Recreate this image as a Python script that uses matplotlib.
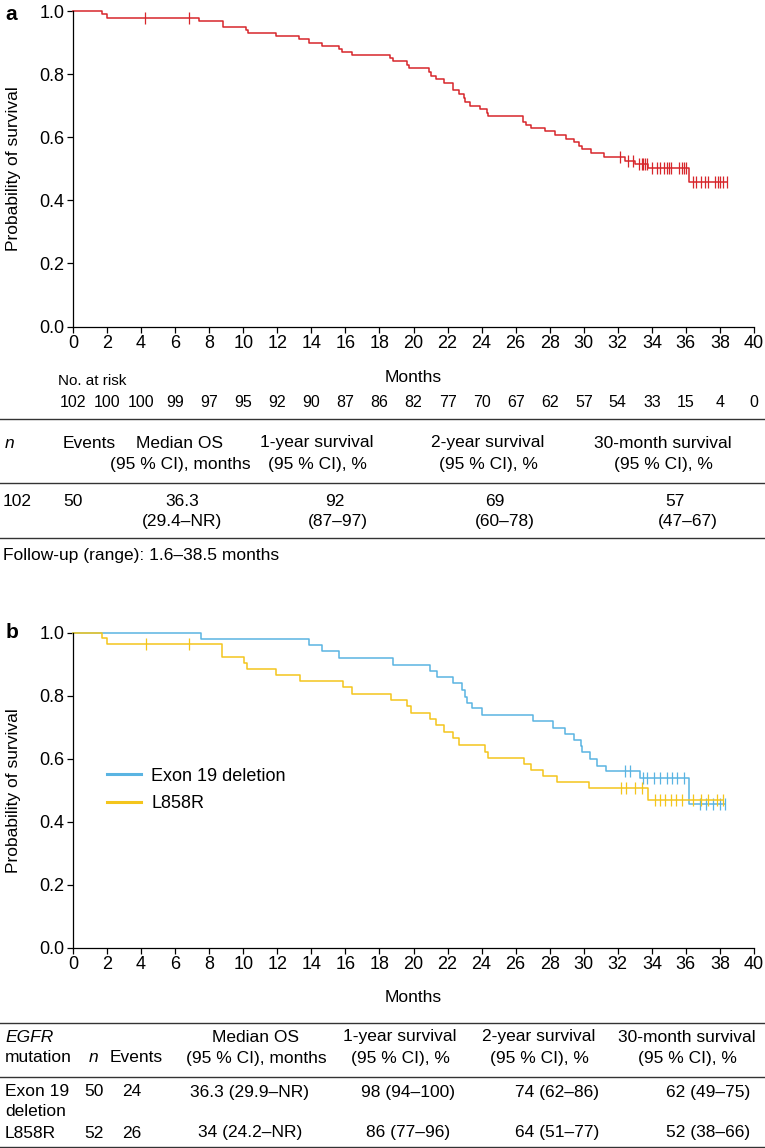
import numpy as np
import matplotlib
matplotlib.use("Agg")
import matplotlib.pyplot as plt
from matplotlib.lines import Line2D
import matplotlib.transforms as mtransforms

plt.rcParams['font.family'] = ['Liberation Sans', 'DejaVu Sans']

# ---- data, panel a (all patients)
a_times = [0, 1.7, 2.0, 7.4, 8.8, 10.15, 10.3, 11.95, 13.3, 13.85, 14.6, 15.65, 15.8,
           16.4, 18.6, 18.8, 19.6, 19.75, 20.9, 21.05, 21.35, 21.8, 22.3, 22.7, 22.95,
           23.05, 23.3, 23.9, 24.3, 24.4, 26.45, 26.6, 26.9, 27.7, 28.3, 28.95, 29.4,
           29.7, 29.9, 30.4, 31.2, 32.4, 33.0, 33.8, 36.2]
a_surv = [1.0, 0.990, 0.980, 0.970, 0.950, 0.940, 0.931, 0.921, 0.911, 0.901, 0.891,
          0.881, 0.871, 0.861, 0.851, 0.841, 0.831, 0.820, 0.808, 0.796, 0.784, 0.772,
          0.750, 0.737, 0.724, 0.712, 0.700, 0.690, 0.678, 0.667, 0.650, 0.640, 0.630,
          0.619, 0.608, 0.596, 0.584, 0.573, 0.563, 0.550, 0.538, 0.526, 0.514, 0.502,
          0.457]
a_censor = [4.2, 6.8, 32.1, 32.6, 32.9, 33.25, 33.4, 33.5, 33.6, 33.7, 34.0, 34.3, 34.5,
            34.7, 34.9, 35.0, 35.1, 35.6, 35.8, 35.9, 36.0, 36.4, 36.6, 36.9, 37.1, 37.3,
            37.7, 37.9, 38.0, 38.2, 38.4]
risk_months = list(range(0, 41, 2))
risk_counts = [102, 100, 100, 99, 97, 95, 92, 90, 87, 86, 82, 77, 70, 67, 62, 57, 54,
               33, 15, 4, 0]

# ---- data, panel b (by EGFR mutation)
exon_times = [0, 7.5, 13.85, 14.6, 15.6, 18.8, 20.94, 21.4, 22.3, 22.83, 23.0, 23.15,
              23.44, 24.0, 27.0, 28.2, 28.9, 29.4, 29.83, 29.9, 30.35, 30.8, 31.3, 33.3,
              36.2]
exon_surv = [1.0, 0.980, 0.960, 0.940, 0.920, 0.898, 0.878, 0.859, 0.840, 0.819, 0.797,
             0.776, 0.760, 0.740, 0.718, 0.698, 0.679, 0.658, 0.640, 0.620, 0.600, 0.578,
             0.560, 0.540, 0.455]
exon_censor = [32.4, 32.7, 33.5, 33.7, 34.1, 34.5, 34.9, 35.2, 35.5, 35.9, 36.8, 37.2,
               37.6, 38.0, 38.3]
l858_times = [0, 1.72, 2.0, 8.78, 10.05, 10.2, 11.9, 13.35, 15.85, 16.4, 18.65, 19.6,
              19.86, 20.94, 21.3, 21.8, 22.3, 22.7, 24.2, 24.4, 26.5, 26.9, 27.6, 28.4,
              30.3, 33.8]
l858_surv = [1.0, 0.981, 0.962, 0.922, 0.903, 0.884, 0.865, 0.845, 0.826, 0.805, 0.785,
             0.766, 0.746, 0.727, 0.706, 0.685, 0.665, 0.643, 0.622, 0.603, 0.584, 0.563,
             0.545, 0.526, 0.506, 0.470]
l858_censor = [4.26, 6.8, 32.2, 32.5, 33.0, 33.4, 34.2, 34.5, 34.8, 35.1, 35.4, 35.8,
               36.4, 36.9, 37.3, 37.8, 38.2]
group_labels = ['Exon 19 deletion', 'L858R']

# ---- table data
a_head1 = ['Events', 'Median OS', '1-year survival', '2-year survival', '30-month survival']
a_head2 = ['', '(95 % CI), months', '(95 % CI), %', '(95 % CI), %', '(95 % CI), %']
a_n, a_events = '102', '50'
a_est = ['36.3', '92', '69', '57']
a_ci = ['(29.4–NR)', '(87–97)', '(60–78)', '(47–67)']
followup = 'Follow-up (range): 1.6–38.5 months'

b_head1 = ['Events', 'Median OS', '1-year survival', '2-year survival', '30-month survival']
b_head2 = ['Events', '(95 % CI), months', '(95 % CI), %', '(95 % CI), %', '(95 % CI), %']
b_rows = [
    ['50', '24', '36.3 (29.9–NR)', '98 (94–100)', '74 (62–86)', '62 (49–75)'],
    ['52', '26', '34 (24.2–NR)', '86 (77–96)', '64 (51–77)', '52 (38–66)'],
]

RED = '#d7262b'
BLUE = '#5ab4e2'
YELLOW = '#f4c51c'
FS = 12.5

W, H = 765, 1148
fig = plt.figure(figsize=(W / 100, H / 100), dpi=100)


def fx(x):
    return x / W


def fy(y):
    return 1 - y / H


def km(ax, times, surv, censor, color, label=None):
    end = max(censor)
    ax.step(times + [end], surv + [surv[-1]], where='post', color=color, lw=1.1,
            clip_on=False, label=label)
    idx = np.searchsorted(times, censor, side='right') - 1
    ax.plot(censor, np.array(surv)[idx], ls='none', marker='|', ms=8, mew=0.9,
            color=color, clip_on=False)


def style(ax):
    ax.set_xlim(0, 40)
    ax.set_ylim(0, 1.0)
    ax.spines['top'].set_visible(False)
    ax.spines['right'].set_visible(False)
    for s in ['left', 'bottom']:
        ax.spines[s].set_linewidth(0.9)
    ax.set_xticks(range(0, 41, 2))
    ax.set_yticks(np.arange(0, 1.01, 0.2))
    ax.set_yticklabels([f'{v:.1f}' for v in np.arange(0, 1.01, 0.2)])
    ax.tick_params(direction='out', length=4, width=0.9, labelsize=FS + 0.5, pad=2)
    ax.set_ylabel('Probability of survival', fontsize=FS)
    ax.yaxis.set_label_coords(-0.076, 0.5)


ax_left, ax_w = fx(73), fx(754) - fx(73)

# ---- panel a
ax1 = fig.add_axes([ax_left, fy(326.5), ax_w, (326.5 - 11.3) / H])
km(ax1, a_times, a_surv, a_censor, RED)
style(ax1)
fig.text(fx(11), fy(15), 'a', fontsize=15, fontweight='bold', ha='center', va='center')
ax1.text(0.5, -(377 - 326.5) / 315.2, 'Months', transform=ax1.transAxes,
         ha='center', va='center', fontsize=FS)
trans = mtransforms.blended_transform_factory(ax1.transData, ax1.transAxes)
ax1.text(-0.9, -(381 - 326.5) / 315.2, 'No. at risk', transform=trans, ha='left',
         va='center', fontsize=FS - 1.5)
for m, c in zip(risk_months, risk_counts):
    ax1.text(m, -(402 - 326.5) / 315.2, str(c), transform=trans, ha='center',
             va='center', fontsize=FS - 1)

# table a
for y in [419, 483, 538]:
    fig.add_artist(Line2D([0, 1], [fy(y), fy(y)], color='#333333', lw=1.0))
fig.text(fx(5), fy(443), 'n', style='italic', fontsize=FS, va='center', ha='left')
fig.text(fx(63), fy(443), a_head1[0], fontsize=FS, va='center', ha='left')
for x, h1, h2 in zip([180, 317, 488, 663], a_head1[1:], a_head2[1:]):
    fig.text(fx(x), fy(443), h1, fontsize=FS, va='center', ha='center')
    fig.text(fx(x), fy(465), h2, fontsize=FS, va='center', ha='center')
fig.text(fx(3), fy(501), a_n, fontsize=FS, va='center', ha='left')
fig.text(fx(63), fy(501), a_events, fontsize=FS, va='center', ha='left')
for x1, x2, e, c in zip([182, 335, 495, 675], [182, 338, 505, 688], a_est, a_ci):
    fig.text(fx(x1), fy(501), e, fontsize=FS, va='center', ha='center')
    fig.text(fx(x2), fy(522), c, fontsize=FS, va='center', ha='center')
fig.text(fx(3), fy(555), followup, fontsize=FS, va='center', ha='left')

# ---- panel b
ax2 = fig.add_axes([ax_left, fy(948), ax_w, (948 - 632.5) / H])
km(ax2, exon_times, exon_surv, exon_censor, BLUE, group_labels[0])
km(ax2, l858_times, l858_surv, l858_censor, YELLOW, group_labels[1])
style(ax2)
fig.text(fx(12), fy(633), 'b', fontsize=15, fontweight='bold', ha='center', va='center')
ax2.text(0.5, -(998 - 948) / 315.5, 'Months', transform=ax2.transAxes,
         ha='center', va='center', fontsize=FS)
handles = [Line2D([], [], color=BLUE, lw=2.2), Line2D([], [], color=YELLOW, lw=2.2)]
ax2.legend(handles, group_labels, loc='upper left', bbox_to_anchor=(0.05, 0.572),
           frameon=False, fontsize=FS + 0.5, handlelength=1.9, handletextpad=0.55,
           borderpad=0, borderaxespad=0, labelspacing=0.6)

# table b
for y in [1023, 1077, 1147]:
    fig.add_artist(Line2D([0, 1], [fy(y), fy(y)], color='#333333', lw=1.0))
fig.text(fx(5), fy(1037), 'EGFR', style='italic', fontsize=FS, va='center', ha='left')
fig.text(fx(5), fy(1058), 'mutation', fontsize=FS, va='center', ha='left')
fig.text(fx(94), fy(1058), 'n', style='italic', fontsize=FS, va='center', ha='center')
fig.text(fx(136), fy(1058), b_head2[0], fontsize=FS, va='center', ha='center')
for x, h1, h2 in zip([256, 400, 539, 687], b_head1[1:], b_head2[1:]):
    fig.text(fx(x), fy(1037), h1, fontsize=FS, va='center', ha='center')
    fig.text(fx(x), fy(1058), h2, fontsize=FS, va='center', ha='center')
fig.text(fx(5), fy(1092), 'Exon 19', fontsize=FS, va='center', ha='left')
fig.text(fx(5), fy(1112), 'deletion', fontsize=FS, va='center', ha='left')
fig.text(fx(5), fy(1133), group_labels[1], fontsize=FS, va='center', ha='left')
for y, row in zip([1092, 1133], b_rows):
    for x, v in zip([94, 132, 250, 408, 557, 708], row):
        fig.text(fx(x), fy(y), v, fontsize=FS, va='center', ha='center')

fig.savefig('out.png', dpi=100)
